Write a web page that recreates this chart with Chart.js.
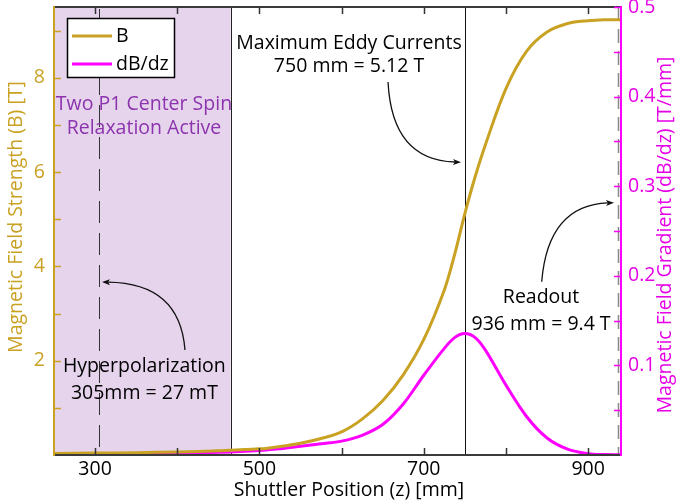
<!DOCTYPE html>
<html><head><meta charset="utf-8">
<script src="https://cdn.jsdelivr.net/npm/chart.js@4.4.0/dist/chart.umd.min.js"></script>
<style>html,body{margin:0;padding:0;background:#fff;} #wrap{width:676px;height:503px;position:relative;}</style>
</head><body><div id="wrap"><canvas id="c" width="676" height="503"></canvas></div>
<script>
// ---- data ----
const zPos     = [250, 300, 350, 400, 450, 500, 525, 550, 575, 600, 625, 650, 675, 700, 725, 737.5, 750, 762.5, 775, 800, 825, 850, 875, 900, 920, 940];
const bField   = [0.03, 0.04, 0.05, 0.065, 0.09, 0.13, 0.18, 0.25, 0.35, 0.49, 0.76, 1.15, 1.70, 2.45, 3.50, 4.25, 5.12, 5.90, 6.58, 7.77, 8.56, 8.97, 9.15, 9.21, 9.23, 9.23];
const gradient = [0.0005, 0.001, 0.0015, 0.002, 0.003, 0.005, 0.007, 0.0097, 0.0125, 0.0155, 0.022, 0.034, 0.057, 0.089, 0.119, 0.131, 0.1355, 0.131, 0.117, 0.078, 0.043, 0.019, 0.0065, 0.0015, 0.0005, 0.0003];
const xTickValues = [300, 400, 500, 600, 700, 800, 900];
const xTickLabels = [300, 500, 700, 900];
const leftTickValues = [1, 2, 3, 4, 5, 6, 7, 8, 9];
const leftTickLabels = [2, 4, 6, 8];
const rightTickValues = [0.05, 0.1, 0.15, 0.2, 0.25, 0.3, 0.35, 0.4, 0.45, 0.5];
const rightTickLabels = [0.1, 0.2, 0.3, 0.4, 0.5];
const shadeRange = [250, 465];
const hyperZ = 305, eddyZ = 750, readoutZ = 936;

// ---- styles ----
const GOLD = '#C9A223', MAG = '#FF00FF', MAGTXT = '#E600E6', PURPLE = '#8C33AE';
const FONT = '"Open Sans", "Noto Sans", sans-serif';
const FS = 19.5;

// annotations (positions in data units: x = mm, y = left axis T)
const notes = [
  {lines: ['Maximum Eddy Currents', '750 mm = 5.12 T'], x: 609, y: [8.73, 8.25], color: '#000'},
  {lines: ['Two P1 Center Spin', 'Relaxation Active'], x: 359.5, y: [7.44, 6.93], color: PURPLE},
  {lines: ['Hyperpolarization', '305mm = 27 mT'], x: 360, y: [1.87, 1.31], color: '#000'},
  {lines: ['Readout', '936 mm = 9.4 T'], x: 842.7, y: [3.34, 2.77], color: '#000'}
];
const arrows = [
  {s: [656.5, 7.91], c: [661.3, 6.25], e: [745.3, 6.21]},
  {s: [409.4, 2.226], c: [403.3, 3.646], e: [308.4, 3.668]},
  {s: [843.5, 3.674], c: [851.2, 5.30], e: [931.5, 5.349]}
];

const ptsB = zPos.map((z, i) => ({x: z, y: bField[i]}));
const ptsG = zPos.map((z, i) => ({x: z, y: gradient[i]}));

function fmt(v){ return String(v); }
function noPad(s){ s.paddingTop = 0; s.paddingBottom = 0; s.paddingLeft = 0; s.paddingRight = 0; }

const deco = {
  id: 'deco',
  beforeDatasetsDraw(chart){
    const {ctx, chartArea: a, scales: {x}} = chart;
    ctx.save();
    const x0 = x.getPixelForValue(shadeRange[0]), x1 = x.getPixelForValue(shadeRange[1]);
    ctx.fillStyle = '#E6D4EC';
    ctx.fillRect(x0, a.top, x1 - x0, a.bottom - a.top);
    ctx.strokeStyle = '#222'; ctx.lineWidth = 1;
    ctx.beginPath(); ctx.moveTo(Math.round(x1)+0.5, a.top); ctx.lineTo(Math.round(x1)+0.5, a.bottom); ctx.stroke();
    const xh = Math.round(x.getPixelForValue(hyperZ)) + 0.5;
    ctx.setLineDash([22, 10]); ctx.strokeStyle = '#333';
    ctx.beginPath(); ctx.moveTo(xh, a.top + 2); ctx.lineTo(xh, a.bottom); ctx.stroke();
    const xr = Math.round(x.getPixelForValue(readoutZ)) + 0.5;
    ctx.setLineDash([14, 8]); ctx.strokeStyle = '#888'; ctx.lineWidth = 1.5;
    ctx.beginPath(); ctx.moveTo(xr, a.top); ctx.lineTo(xr, a.bottom); ctx.stroke();
    ctx.setLineDash([]);
    const xe = Math.round(x.getPixelForValue(eddyZ)) + 0.5;
    ctx.strokeStyle = '#111'; ctx.lineWidth = 1;
    ctx.beginPath(); ctx.moveTo(xe, a.top); ctx.lineTo(xe, a.bottom); ctx.stroke();
    ctx.restore();
  },
  afterDraw(chart){
    const {ctx, chartArea: a, scales: {x, y, y2}} = chart;
    ctx.save();
    ctx.lineWidth = 2;
    ctx.strokeStyle = '#3a3a3a';
    ctx.beginPath(); ctx.moveTo(a.left, a.bottom); ctx.lineTo(a.right, a.bottom); ctx.stroke();
    ctx.beginPath(); ctx.moveTo(a.left, a.top); ctx.lineTo(a.right, a.top); ctx.stroke();
    ctx.strokeStyle = GOLD;
    ctx.beginPath(); ctx.moveTo(a.left, a.top - 1); ctx.lineTo(a.left, a.bottom + 1); ctx.stroke();
    ctx.strokeStyle = MAG;
    ctx.beginPath(); ctx.moveTo(a.right, a.top - 1); ctx.lineTo(a.right, a.bottom + 1); ctx.stroke();
    ctx.lineWidth = 1.5; ctx.strokeStyle = '#333';
    xTickValues.forEach(v => {
      const px = Math.round(x.getPixelForValue(v)) + 0.5;
      ctx.beginPath(); ctx.moveTo(px, a.bottom); ctx.lineTo(px, a.bottom - 7); ctx.stroke();
      ctx.beginPath(); ctx.moveTo(px, a.top); ctx.lineTo(px, a.top + 7); ctx.stroke();
    });
    ctx.strokeStyle = GOLD;
    leftTickValues.forEach(v => {
      const py = Math.round(y.getPixelForValue(v)) + 0.5;
      ctx.beginPath(); ctx.moveTo(a.left, py); ctx.lineTo(a.left + 7, py); ctx.stroke();
    });
    ctx.strokeStyle = MAG;
    rightTickValues.forEach(v => {
      const py = Math.round(y2.getPixelForValue(v)) + 0.5;
      ctx.beginPath(); ctx.moveTo(a.right, py); ctx.lineTo(a.right - 7, py); ctx.stroke();
    });
    ctx.font = FS + 'px ' + FONT;
    ctx.textAlign = 'center'; ctx.textBaseline = 'middle';
    ctx.fillStyle = '#000';
    ctx.fillText('Shuttler Position (z) [mm]', 349, 490);
    ctx.save(); ctx.translate(16, 217); ctx.rotate(-Math.PI/2);
    ctx.fillStyle = GOLD; ctx.fillText('Magnetic Field Strength (B) [T]', 0, 0); ctx.restore();
    ctx.save(); ctx.translate(665, 235); ctx.rotate(-Math.PI/2);
    ctx.fillStyle = MAGTXT; ctx.fillText('Magnetic Field Gradient (dB/dz) [T/mm]', 0, 0); ctx.restore();
    notes.forEach(n => {
      ctx.fillStyle = n.color;
      n.lines.forEach((t, i) => ctx.fillText(t, x.getPixelForValue(n.x), y.getPixelForValue(n.y[i])));
    });
    ctx.strokeStyle = '#111'; ctx.fillStyle = '#111'; ctx.lineWidth = 1.3;
    arrows.forEach(ar => {
      const sx = x.getPixelForValue(ar.s[0]), sy = y.getPixelForValue(ar.s[1]);
      const cx = x.getPixelForValue(ar.c[0]), cy = y.getPixelForValue(ar.c[1]);
      const ex = x.getPixelForValue(ar.e[0]), ey = y.getPixelForValue(ar.e[1]);
      const ang = Math.atan2(ey - cy, ex - cx);
      const hl = 8, hw = 3;
      const bx = ex - hl * Math.cos(ang), by = ey - hl * Math.sin(ang);
      ctx.beginPath(); ctx.moveTo(sx, sy); ctx.quadraticCurveTo(cx, cy, bx + 2*Math.cos(ang), by + 2*Math.sin(ang)); ctx.stroke();
      ctx.beginPath();
      ctx.moveTo(ex, ey);
      ctx.lineTo(bx - hw * Math.sin(ang), by + hw * Math.cos(ang));
      ctx.lineTo(bx + 2*Math.cos(ang), by + 2*Math.sin(ang));
      ctx.lineTo(bx + hw * Math.sin(ang), by - hw * Math.cos(ang));
      ctx.closePath(); ctx.fill();
    });
    const lg = {x: 67.5, y: 18.5, w: 107, h: 59};
    ctx.fillStyle = '#fff'; ctx.fillRect(lg.x, lg.y, lg.w, lg.h);
    ctx.strokeStyle = '#000'; ctx.lineWidth = 1.5; ctx.strokeRect(lg.x, lg.y, lg.w, lg.h);
    chart.data.datasets.forEach((ds, i) => {
      const ly = 36 + i * 28;
      ctx.strokeStyle = ds.borderColor; ctx.lineWidth = 3;
      ctx.beginPath(); ctx.moveTo(72, ly); ctx.lineTo(112, ly); ctx.stroke();
      ctx.fillStyle = '#000'; ctx.textAlign = 'left';
      ctx.fillText(ds.label, 116, ly);
    });
    ctx.restore();
  }
};

new Chart(document.getElementById('c'), {
  type: 'line',
  data: {
    datasets: [
      {label: 'B', data: ptsB, yAxisID: 'y', borderColor: GOLD, borderWidth: 3, pointRadius: 0, tension: 0.35, fill: false},
      {label: 'dB/dz', data: ptsG, yAxisID: 'y2', borderColor: MAG, borderWidth: 3, pointRadius: 0, tension: 0.35, fill: false}
    ]
  },
  options: {
    responsive: false, animation: false,
    layout: {padding: {top: 7, left: 0, right: 0, bottom: 0}},
    plugins: {legend: {display: false}, tooltip: {enabled: false}},
    scales: {
      x: {
        type: 'linear', min: 250, max: 940,
        afterBuildTicks: s => { s.ticks = xTickLabels.map(v => ({value: v})); },
        afterFit: s => { s.height = 48; noPad(s); },
        grid: {display: false, drawTicks: false}, border: {display: false},
        ticks: {color: '#000', font: {family: FONT, size: FS}, padding: 3, maxRotation: 0, autoSkip: false, callback: v => fmt(v)}
      },
      y: {
        type: 'linear', position: 'left', min: 0, max: 9.5,
        afterBuildTicks: s => { s.ticks = leftTickLabels.map(v => ({value: v})); },
        afterFit: s => { s.width = 54; noPad(s); },
        grid: {display: false, drawTicks: false}, border: {display: false},
        ticks: {color: GOLD, font: {family: FONT, size: FS}, padding: 9, autoSkip: false, callback: v => fmt(v)}
      },
      y2: {
        type: 'linear', position: 'right', min: 0, max: 0.5,
        afterBuildTicks: s => { s.ticks = rightTickLabels.map(v => ({value: v})); },
        afterFit: s => { s.width = 55; noPad(s); },
        grid: {display: false, drawTicks: false}, border: {display: false},
        ticks: {color: MAGTXT, font: {family: FONT, size: FS}, padding: 7, autoSkip: false, callback: v => fmt(v)}
      }
    }
  },
  plugins: [deco]
});
</script>
</body></html>
